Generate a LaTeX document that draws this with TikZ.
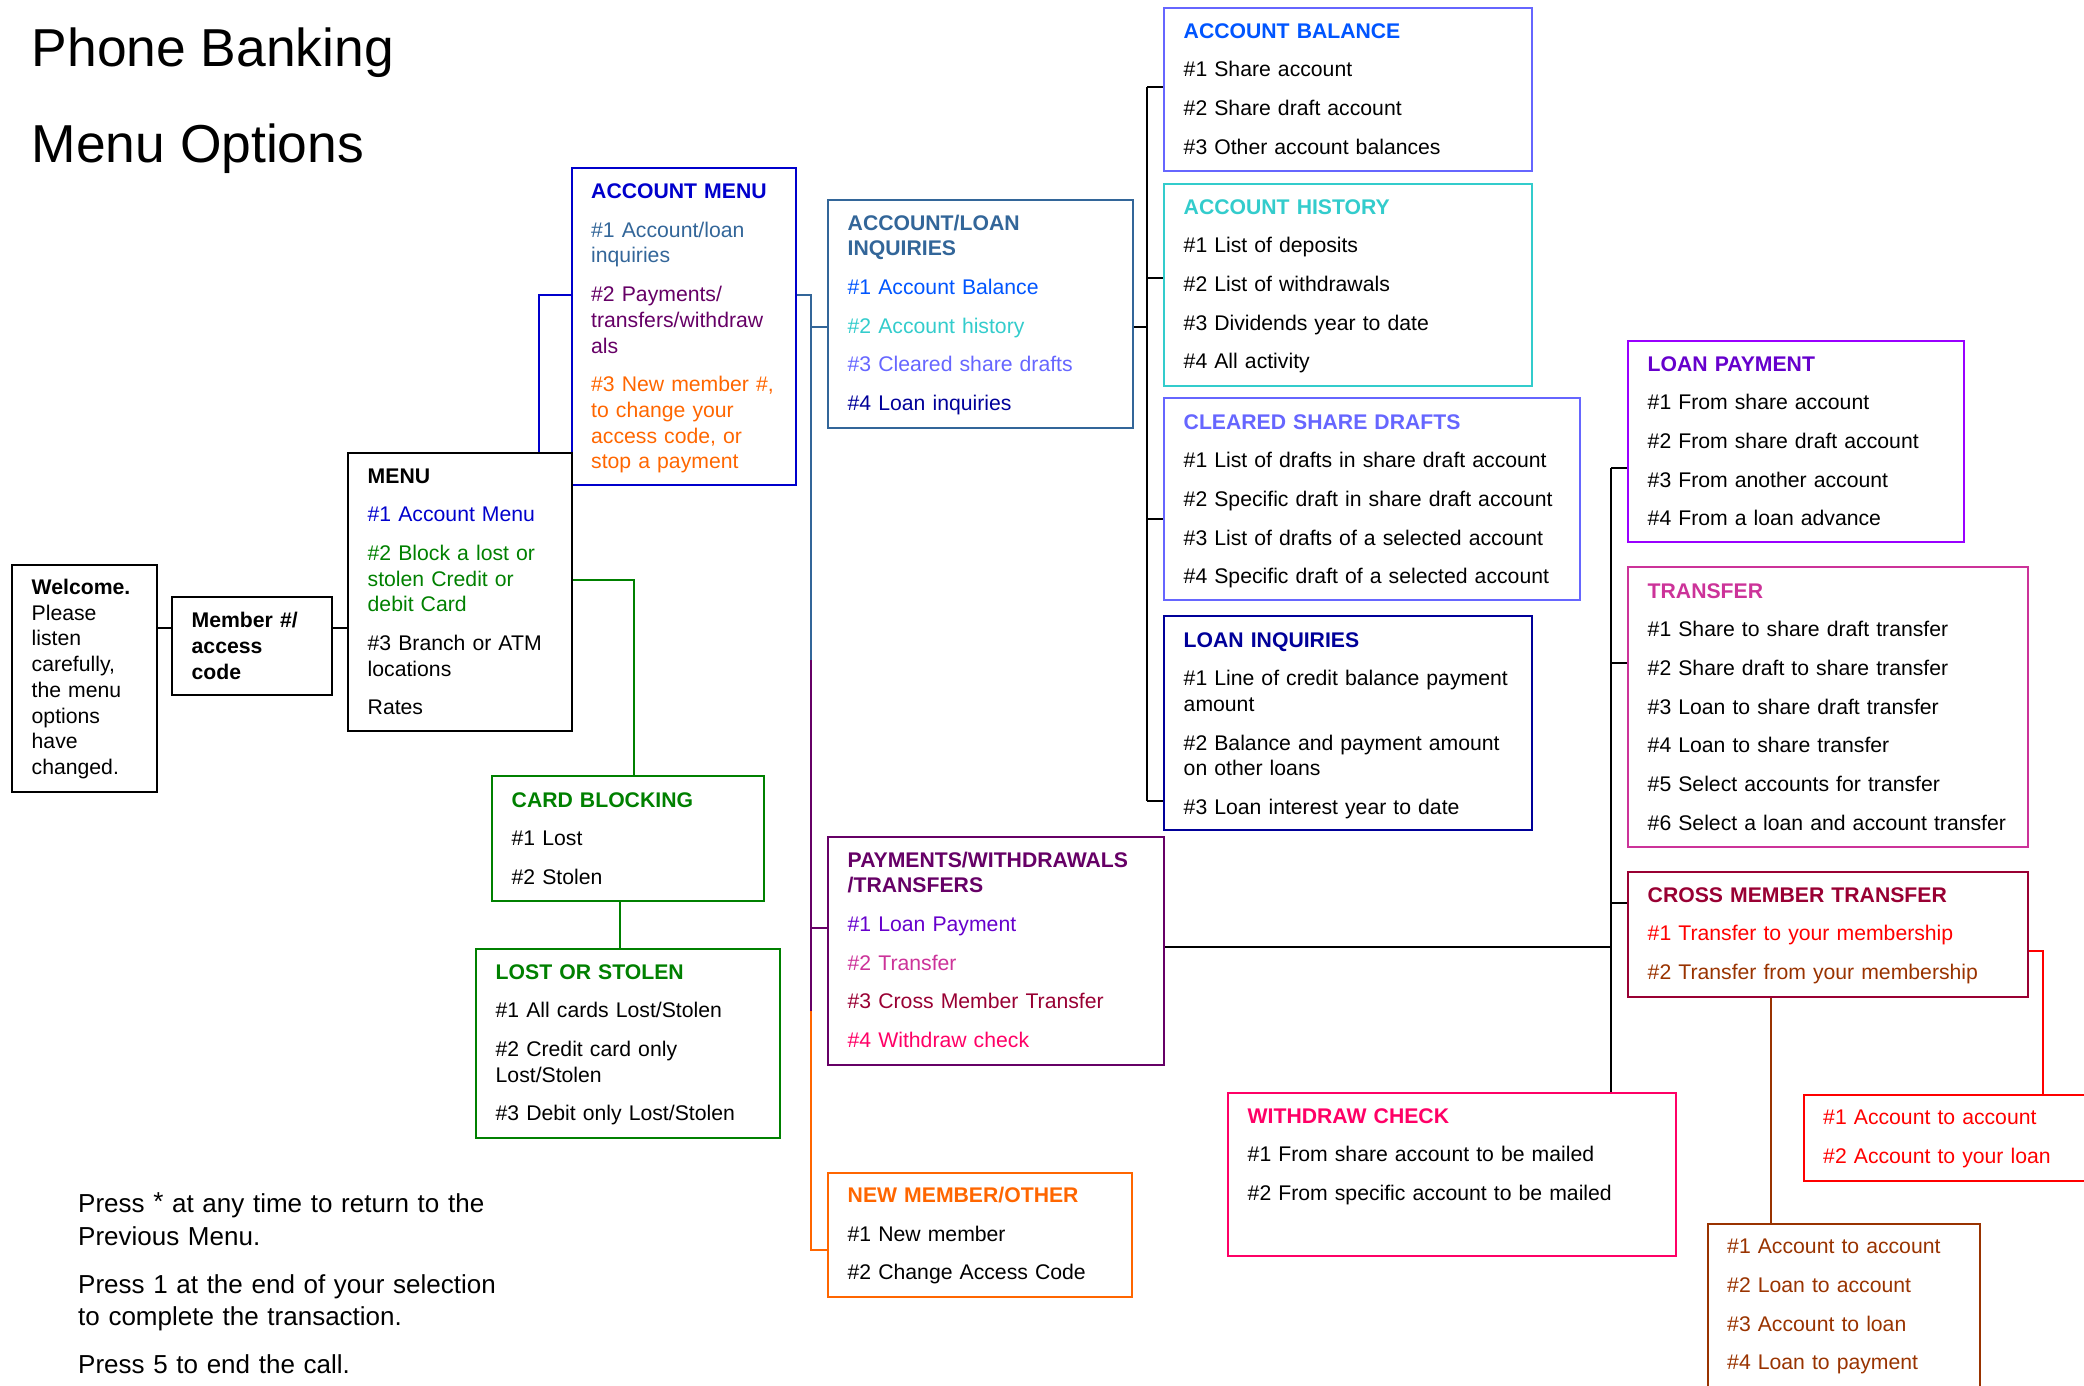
\documentclass[tikz,border=0pt]{standalone}
\usepackage{fontspec}
\setmainfont{Liberation Sans}
\usepackage{xcolor}
\usepackage{tikz}
\usetikzlibrary{positioning, calc}

\definecolor{acmblue}{HTML}{0000CC}
\definecolor{steel}{HTML}{336699}
\definecolor{plum}{HTML}{660066}
\definecolor{tangerine}{HTML}{FF6600}
\definecolor{leaf}{HTML}{008000}
\definecolor{balblue}{HTML}{0055FF}
\definecolor{turq}{HTML}{33CCCC}
\definecolor{periwinkle}{HTML}{6666FF}
\definecolor{navyink}{HTML}{000099}
\definecolor{lpviolet}{HTML}{6600CC}
\definecolor{lpborder}{HTML}{9900FF}
\definecolor{trpink}{HTML}{CC3399}
\definecolor{crimson}{HTML}{990033}
\definecolor{hotpink}{HTML}{FF0066}
\definecolor{rust}{HTML}{993300}

\tikzset{
  box/.style={draw=#1, line width=1.8pt, inner sep=0pt, anchor=north west},
  box/.default=black,
  txt/.style={anchor=base west, inner sep=0pt, align=left,
    font=\fontsize{21.2}{25.7}\selectfont},
  link/.style={line width=2pt},
}

\begin{document}
\begin{tikzpicture}[x=1pt, y=-1pt]
\useasboundingbox (0,0) rectangle (2084,1385);
\clip (0,0) rectangle (2084,1385);

% Title
\node[anchor=base west, inner sep=0pt, font=\fontsize{53.4}{64}\selectfont] (title) at (31.5,66) {Phone Banking};
\node[anchor=base west, inner sep=0pt, font=\fontsize{53.4}{64}\selectfont] (subtitle) at (31.5,162) {Menu Options};

% Welcome and member number
\node[box, line width=2.4pt, minimum width=145, minimum height=227] (welcome) at (10.5,564) {};
\node[txt, text width=120] (welcome-t) at ([shift={(21,30.5)}]welcome.north west)
  {\textbf{Welcome.}\\Please\\listen\\carefully,\\the menu\\options\\have\\changed.};

\node[box, line width=2.4pt, minimum width=160, minimum height=98] (member) at (171,596) {};
\node[txt, text width=135] (member-t) at ([shift={(20.5,31.6)}]member.north west)
  {{\bfseries Member \#/\\access\\code}};

% Account menu (drawn before main menu)
\node[box=acmblue, minimum width=224, minimum height=317] (acmenu) at (571,167) {};
\node[txt, text width=199] (acmenu-t) at ([shift={(20,31.5)}]acmenu.north west)
  {{\bfseries\color{acmblue}ACCOUNT MENU}\\[13pt]
   {\color{steel}\#1 Account/loan\\inquiries}\\[13pt]
   {\color{plum}\#2 Payments/\\transfers/withdraw\\als}\\[13pt]
   {\color{tangerine}\#3 New member \#,\\to change your\\access code, or\\stop a payment}};

% Main menu
\node[box, line width=2.4pt, minimum width=224, minimum height=278] (menu) at (347,452) {};
\node[txt, text width=199] (menu-t) at ([shift={(20.5,31)}]menu.north west)
  {\textbf{MENU}\\[13pt]
   {\color{acmblue}\#1 Account Menu}\\[13pt]
   {\color{leaf}\#2 Block a lost or\\stolen Credit or\\debit Card}\\[13pt]
   \#3 Branch or ATM\\locations\\[13pt]
   Rates};

% Card blocking
\node[box=leaf, minimum width=272, minimum height=125] (cardblk) at (491,775) {};
\node[txt, text width=247] (cardblk-t) at ([shift={(20.5,32)}]cardblk.north west)
  {{\bfseries\color{leaf}CARD BLOCKING}\\[13pt]\#1 Lost\\[13pt]\#2 Stolen};

\node[box=leaf, minimum width=304, minimum height=189] (lost) at (475,948) {};
\node[txt, text width=279] (lost-t) at ([shift={(20.5,31)}]lost.north west)
  {{\bfseries\color{leaf}LOST OR STOLEN}\\[13pt]
   \#1 All cards Lost/Stolen\\[13pt]
   \#2 Credit card only\\Lost/Stolen\\[13pt]
   \#3 Debit only Lost/Stolen};

% Inquiries
\node[box=steel, minimum width=305, minimum height=228] (alinq) at (827,199) {};
\node[txt, text width=280] (alinq-t) at ([shift={(20.5,31)}]alinq.north west)
  {{\bfseries\color{steel}ACCOUNT/LOAN\\INQUIRIES}\\[13pt]
   {\color{balblue}\#1 Account Balance}\\[13pt]
   {\color{turq}\#2 Account history}\\[13pt]
   {\color{periwinkle}\#3 Cleared share drafts}\\[13pt]
   {\color{navyink}\#4 Loan inquiries}};

\node[box=periwinkle, minimum width=368, minimum height=163] (acbal) at (1163,7) {};
\node[txt, text width=343] (acbal-t) at ([shift={(20.5,31)}]acbal.north west)
  {{\bfseries\color{balblue}ACCOUNT BALANCE}\\[13pt]
   \#1 Share account\\[13pt]
   \#2 Share draft account\\[13pt]
   \#3 Other account balances};

\node[box=turq, minimum width=368, minimum height=202] (achist) at (1163,183) {};
\node[txt, text width=343] (achist-t) at ([shift={(20.5,31)}]achist.north west)
  {{\bfseries\color{turq}ACCOUNT HISTORY}\\[13pt]
   \#1 List of deposits\\[13pt]
   \#2 List of withdrawals\\[13pt]
   \#3 Dividends year to date\\[13pt]
   \#4 All activity};

\node[box=periwinkle, minimum width=416, minimum height=202] (cleared) at (1163,397) {};
\node[txt, text width=391] (cleared-t) at ([shift={(20.5,32)}]cleared.north west)
  {{\bfseries\color{periwinkle}CLEARED SHARE DRAFTS}\\[13pt]
   \#1 List of drafts in share draft account\\[13pt]
   \#2 Specific draft in share draft account\\[13pt]
   \#3 List of drafts of a selected account\\[13pt]
   \#4 Specific draft of a selected account};

\node[box=navyink, minimum width=368, minimum height=214] (loaninq) at (1163,615) {};
\node[txt, text width=343] (loaninq-t) at ([shift={(20.5,32)}]loaninq.north west)
  {{\bfseries\color{navyink}LOAN INQUIRIES}\\[13pt]
   \#1 Line of credit balance payment\\amount\\[13pt]
   \#2 Balance and payment amount\\on other loans\\[13pt]
   \#3 Loan interest year to date};

% Payments
\node[box=plum, minimum width=336, minimum height=228] (paywd) at (827,836) {};
\node[txt, text width=311] (paywd-t) at ([shift={(20.5,31)}]paywd.north west)
  {{\bfseries\color{plum}PAYMENTS/WITHDRAWALS\\/TRANSFERS}\\[13pt]
   {\color{lpviolet}\#1 Loan Payment}\\[13pt]
   {\color{trpink}\#2 Transfer}\\[13pt]
   {\color{crimson}\#3 Cross Member Transfer}\\[13pt]
   {\color{hotpink}\#4 Withdraw check}};

\node[box=tangerine, minimum width=304, minimum height=124] (newmem) at (827,1172) {};
\node[txt, text width=279] (newmem-t) at ([shift={(20.5,30.5)}]newmem.north west)
  {{\bfseries\color{tangerine}NEW MEMBER/OTHER}\\[13pt]
   \#1 New member\\[13pt]
   \#2 Change Access Code};

\node[box=lpborder, minimum width=336, minimum height=201] (loanpay) at (1627,340) {};
\node[txt, text width=311] (loanpay-t) at ([shift={(20.5,31)}]loanpay.north west)
  {{\bfseries\color{lpviolet}LOAN PAYMENT}\\[13pt]
   \#1 From share account\\[13pt]
   \#2 From share draft account\\[13pt]
   \#3 From another account\\[13pt]
   \#4 From a loan advance};

\node[box=trpink, minimum width=400, minimum height=280] (transfer) at (1627,566) {};
\node[txt, text width=375] (transfer-t) at ([shift={(20.5,32)}]transfer.north west)
  {{\bfseries\color{trpink}TRANSFER}\\[13pt]
   \#1 Share to share draft transfer\\[13pt]
   \#2 Share draft to share transfer\\[13pt]
   \#3 Loan to share draft transfer\\[13pt]
   \#4 Loan to share transfer\\[13pt]
   \#5 Select accounts for transfer\\[13pt]
   \#6 Select a loan and account transfer};

\node[box=crimson, minimum width=400, minimum height=125] (cmt) at (1627,871) {};
\node[txt, text width=375] (cmt-t) at ([shift={(20.5,31)}]cmt.north west)
  {{\bfseries\color{crimson}CROSS MEMBER TRANSFER}\\[13pt]
   {\color{red}\#1 Transfer to your membership}\\[13pt]
   {\color{rust}\#2 Transfer from your membership}};

\node[box=hotpink, minimum width=448, minimum height=163] (wdcheck) at (1227,1092) {};
\node[txt, text width=423] (wdcheck-t) at ([shift={(20.5,31)}]wdcheck.north west)
  {{\bfseries\color{hotpink}WITHDRAW CHECK}\\[13pt]
   \#1 From share account to be mailed\\[13pt]
   \#2 From specific account to be mailed};

\node[box=red, minimum width=300, minimum height=86] (tomember) at (1803,1094) {};
\node[txt, text width=260] (tomember-t) at ([shift={(20,30.6)}]tomember.north west)
  {\color{red}\#1 Account to account\\[13pt]\#2 Account to your loan};

\node[box=rust, minimum width=272, minimum height=200] (frommember) at (1707,1223) {};
\node[txt, text width=247] (frommember-t) at ([shift={(20,30.6)}]frommember.north west)
  {\color{rust}\#1 Account to account\\[13pt]\#2 Loan to account\\[13pt]\#3 Account to loan\\[13pt]\#4 Loan to payment};

% Notes
\node[anchor=base west, inner sep=0pt, align=left, text width=440,
  font=\fontsize{26}{32.3}\selectfont] (notes) at (78,1212.7)
  {Press \raisebox{2pt}{*} at any time to return to the\\Previous Menu.\\[16pt]
   Press 1 at the end of your selection\\to complete the transaction.\\[16pt]
   Press 5 to end the call.};

% Junctions
\coordinate (jWel) at (0,628);
\coordinate (jAcm) at (539,295);
\coordinate (jCard) at (634,580);
\coordinate (tTop) at (811,295);
\coordinate (tAli) at (811,327);
\coordinate (tMid) at (811,660);
\coordinate (tPay) at (811,928);
\coordinate (tLow) at (811,1011);
\coordinate (tEnd) at (811,1250);
\coordinate (bTop) at (1147,87);
\coordinate (bHist) at (1147,278);
\coordinate (bFeed) at (1147,327);
\coordinate (bClr) at (1147,519);
\coordinate (bEnd) at (1147,801);
\coordinate (rTop) at (1611,468);
\coordinate (rTr) at (1611,663);
\coordinate (rCmt) at (1611,903);
\coordinate (rFeed) at (1611,947);
\coordinate (cRed) at (2043,951);
\coordinate (cBrn) at (1771,996);

% Connectors
\draw[link] (welcome.east |- jWel) -- (member.west |- jWel);
\draw[link] (member.east |- jWel) -- (menu.west |- jWel);
\draw[link, acmblue] (menu.north -| jAcm) -- (jAcm) -- (acmenu.west |- jAcm);
\draw[link, leaf] (menu.east |- jCard) -- (jCard) -- (cardblk.north -| jCard);
\draw[link, leaf] ([xshift=-8]cardblk.south) -- ([xshift=-8]lost.north);

\draw[link, steel] (acmenu.east |- tTop) -- (tTop) -- (tMid);
\draw[link, steel] (tAli) -- (alinq.west |- tAli);
\draw[link, plum] (tMid) -- (tLow);
\draw[link, plum] (tPay) -- (paywd.west |- tPay);
\draw[link, tangerine] (tLow) -- (tEnd) -- (newmem.west |- tEnd);

\draw[link] (alinq.east |- bFeed) -- (bFeed);
\draw[link] (bTop) -- (bEnd);
\draw[link] (bTop) -- (acbal.west |- bTop);
\draw[link] (bHist) -- (achist.west |- bHist);
\draw[link] (bClr) -- (cleared.west |- bClr);
\draw[link] (bEnd) -- (loaninq.west |- bEnd);

\draw[link] (paywd.east |- rFeed) -- (rFeed);
\draw[link] (rTop) -- (rTop |- wdcheck.north);
\draw[link] (rTop) -- (loanpay.west |- rTop);
\draw[link] (rTr) -- (transfer.west |- rTr);
\draw[link] (rCmt) -- (cmt.west |- rCmt);

\draw[link, red] (cmt.east |- cRed) -- (cRed) -- (tomember.north -| cRed);
\draw[link, rust] (cmt.south -| cBrn) -- (frommember.north -| cBrn);
\end{tikzpicture}
\end{document}
